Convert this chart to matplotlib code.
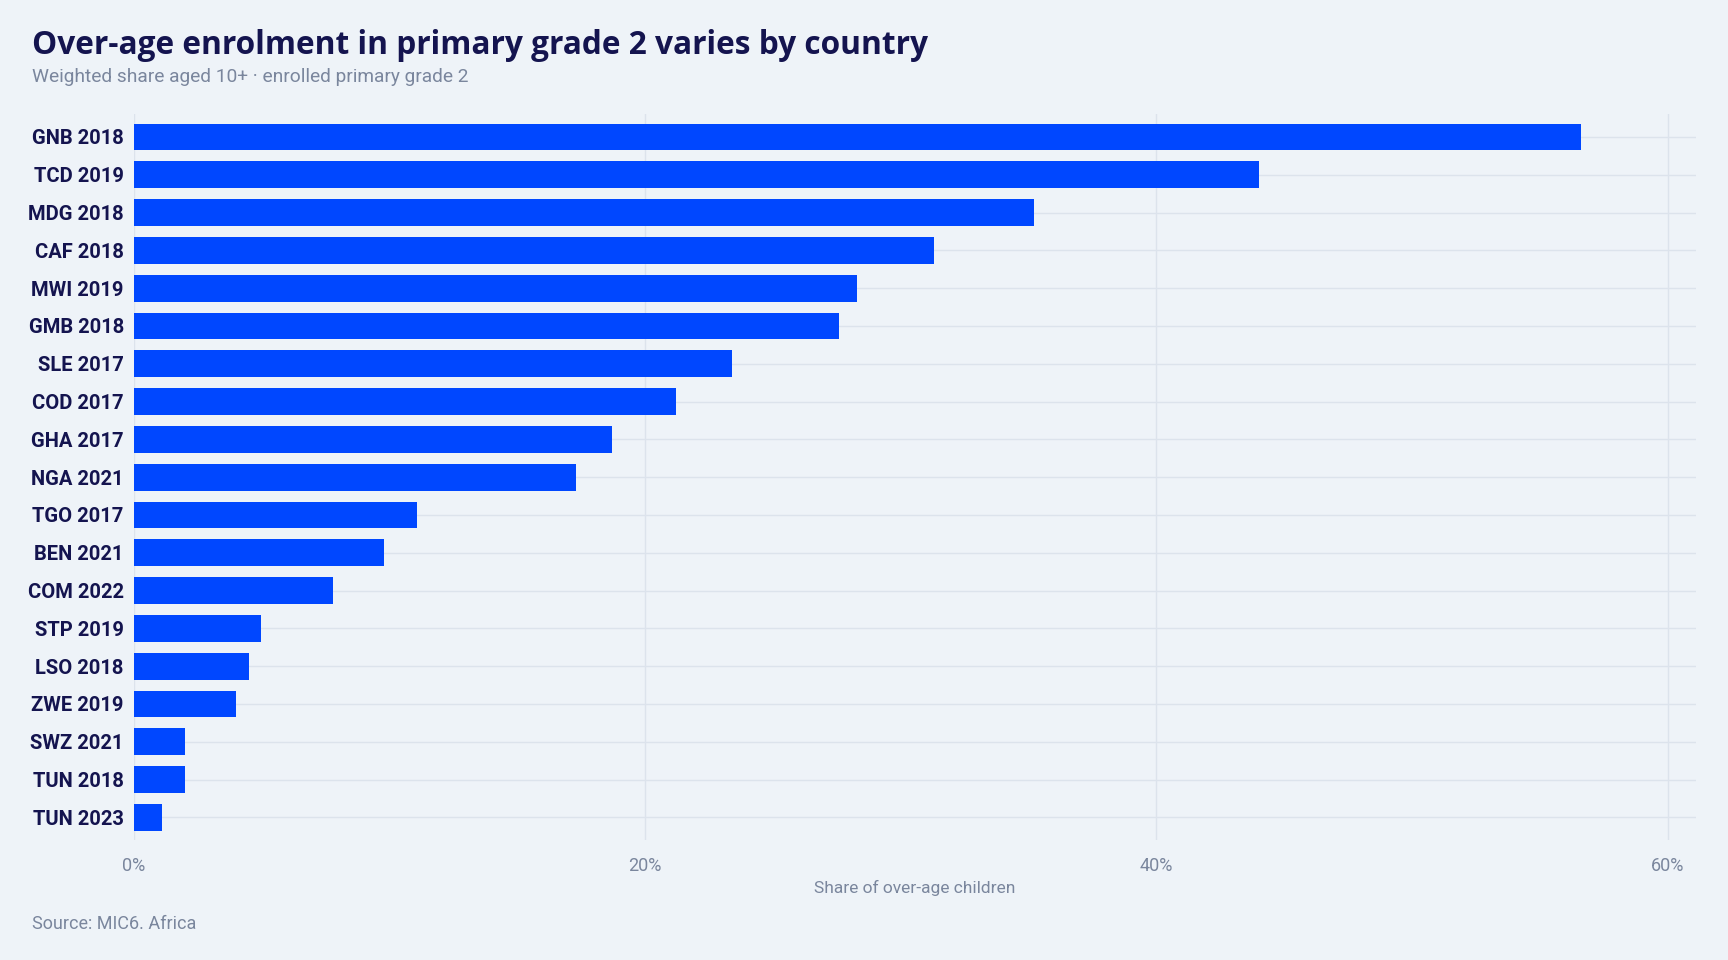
import matplotlib
matplotlib.use('Agg')
import matplotlib.pyplot as plt
from matplotlib.ticker import FuncFormatter

# data, top to bottom
countries = ['GNB 2018', 'TCD 2019', 'MDG 2018', 'CAF 2018', 'MWI 2019', 'GMB 2018',
             'SLE 2017', 'COD 2017', 'GHA 2017', 'NGA 2021', 'TGO 2017', 'BEN 2021',
             'COM 2022', 'STP 2019', 'LSO 2018', 'ZWE 2019', 'SWZ 2021', 'TUN 2018',
             'TUN 2023']
shares = [56.6, 44.0, 35.2, 31.3, 28.3, 27.6, 23.4, 21.2, 18.7, 17.3, 11.1, 9.8,
          7.8, 5.0, 4.5, 4.0, 2.0, 2.0, 1.1]
x_ticks = [0, 20, 40, 60]

BG = '#EEF3F8'
NAVY = '#14144F'
BAR = '#0047FF'
GRID = '#DCE3EC'
MUTED = '#7A869D'

fig = plt.figure(figsize=(17.28, 9.6), dpi=100)
fig.patch.set_facecolor(BG)
ax = fig.add_axes([0.0773, 0.125, 0.9042, 0.756])
ax.set_facecolor(BG)

ypos = list(range(len(countries)))
ax.barh(ypos, shares, height=0.71, color=BAR, zorder=3)
ax.set_ylim(len(countries) - 0.4, -0.6)
ax.set_xlim(0, 61.1)

ax.set_yticks(ypos)
ax.set_yticklabels(countries, family='Roboto', fontweight='bold',
                   fontsize=14.5, color=NAVY)
ax.set_xticks(x_ticks)
ax.xaxis.set_major_formatter(FuncFormatter(lambda v, p: f'{v:.0f}%'))
for lbl in ax.get_xticklabels():
    lbl.set_family('Roboto')
    lbl.set_fontsize(13)
    lbl.set_color(MUTED)
ax.tick_params(axis='both', length=0)
ax.tick_params(axis='y', pad=7)
ax.tick_params(axis='x', pad=12)

ax.grid(True, color=GRID, linewidth=1, zorder=0)
for s in ax.spines.values():
    s.set_visible(False)

ax.set_xlabel('Share of over-age children', family='Roboto', fontsize=12.5,
              color=MUTED, labelpad=4)

fig.text(32 / 1728, 1 - 45 / 960, 'Over-age enrolment in primary grade 2 varies by country',
         family='Open Sans', fontweight='bold', fontsize=22.8, color=NAVY,
         va='center', ha='left')
fig.text(32 / 1728, 1 - 77 / 960, 'Weighted share aged 10+ \u00b7 enrolled primary grade 2',
         family='Roboto', fontsize=13.8, color=MUTED, va='center', ha='left')
fig.text(32 / 1728, 1 - 924 / 960, 'Source: MIC6. Africa',
         family='Roboto', fontsize=13, color=MUTED, va='center', ha='left')

fig.savefig('out.png', dpi=100, facecolor=fig.get_facecolor())
